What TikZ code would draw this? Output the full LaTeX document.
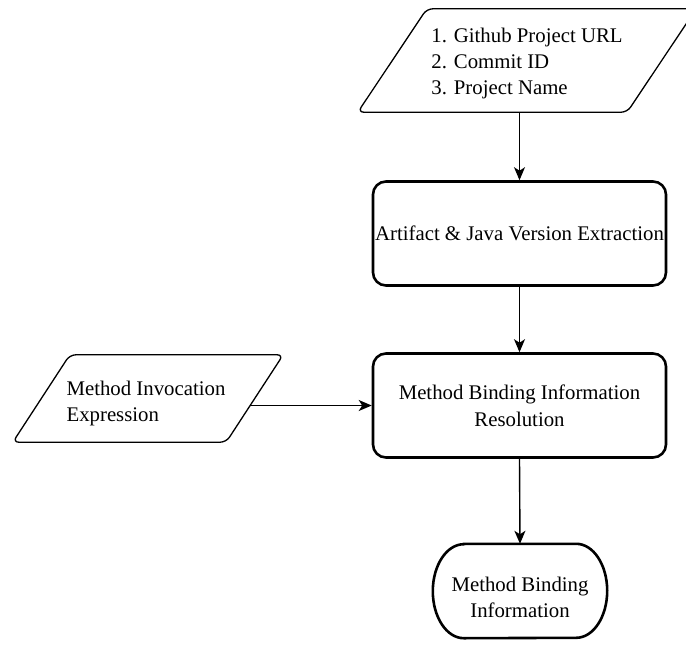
\documentclass[tikz,border=0pt]{standalone}
\usepackage{fontspec}
\setmainfont{Liberation Serif}
\usetikzlibrary{shapes.geometric, arrows.meta, positioning, calc}

\begin{document}
\begin{tikzpicture}[
    x=1pt, y=-1pt,
    font=\fontsize{20.8}{26}\selectfont,
    frame/.style={rectangle, inner sep=0pt},
    ioline/.style={draw, line width=1.3pt, rounded corners=6pt},
    process/.style={rectangle, draw, line width=2.6pt, rounded corners=13pt, minimum width=293pt, minimum height=104pt, align=center, inner sep=2pt},
    arrow/.style={-{Stealth[length=13pt, width=11pt, inset=3.5pt]}, line width=1.4pt}
]
\useasboundingbox (0,0) rectangle (686,646);

% inputs
\node[frame, minimum width=338pt, minimum height=103pt] (repo) at (527,60.5) {};
\draw[ioline] ([xshift=69pt]repo.north west) -- (repo.north east) -- ([xshift=-69pt]repo.south east) -- (repo.south west) -- cycle;
\node[align=left] (repotext) at (527,63.5) {1. Github Project URL\\2. Commit ID\\3. Project Name};

\node[frame, minimum width=270pt, minimum height=87pt] (expr) at (148,398.5) {};
\draw[ioline] ([xshift=57pt]expr.north west) -- (expr.north east) -- ([xshift=-57pt]expr.south east) -- (expr.south west) -- cycle;
\node[align=left] (exprtext) at (146,403) {Method Invocation\\Expression};

% processing steps
\node[process] (extract) at (519.5,233.5) {Artifact \& Java Version Extraction};
\node[process] (resolve) at (519.5,405.5) {Method Binding Information\\[1pt]Resolution};

% output
\node[frame, minimum width=174pt, minimum height=94pt] (binding) at (520,591) {};
\draw[line width=2.6pt] ([xshift=31pt]binding.north west) -- ([xshift=-31pt]binding.north east)
    arc[start angle=90, end angle=-90, x radius=31pt, y radius=47pt]
    -- ([xshift=31pt]binding.south west)
    arc[start angle=270, end angle=90, x radius=31pt, y radius=47pt] -- cycle;
\node[align=center] (bindingtext) at (520,597) {Method Binding\\Information};

\draw[arrow] (extract.north |- repo.south) -- (extract.north);
\draw[arrow] (extract.south) -- (resolve.north);
\draw[arrow] ($(expr.east)+(-33,7)$) -- (resolve.west);
\draw[arrow] (resolve.south) -- (binding.north);

\end{tikzpicture}
\end{document}
